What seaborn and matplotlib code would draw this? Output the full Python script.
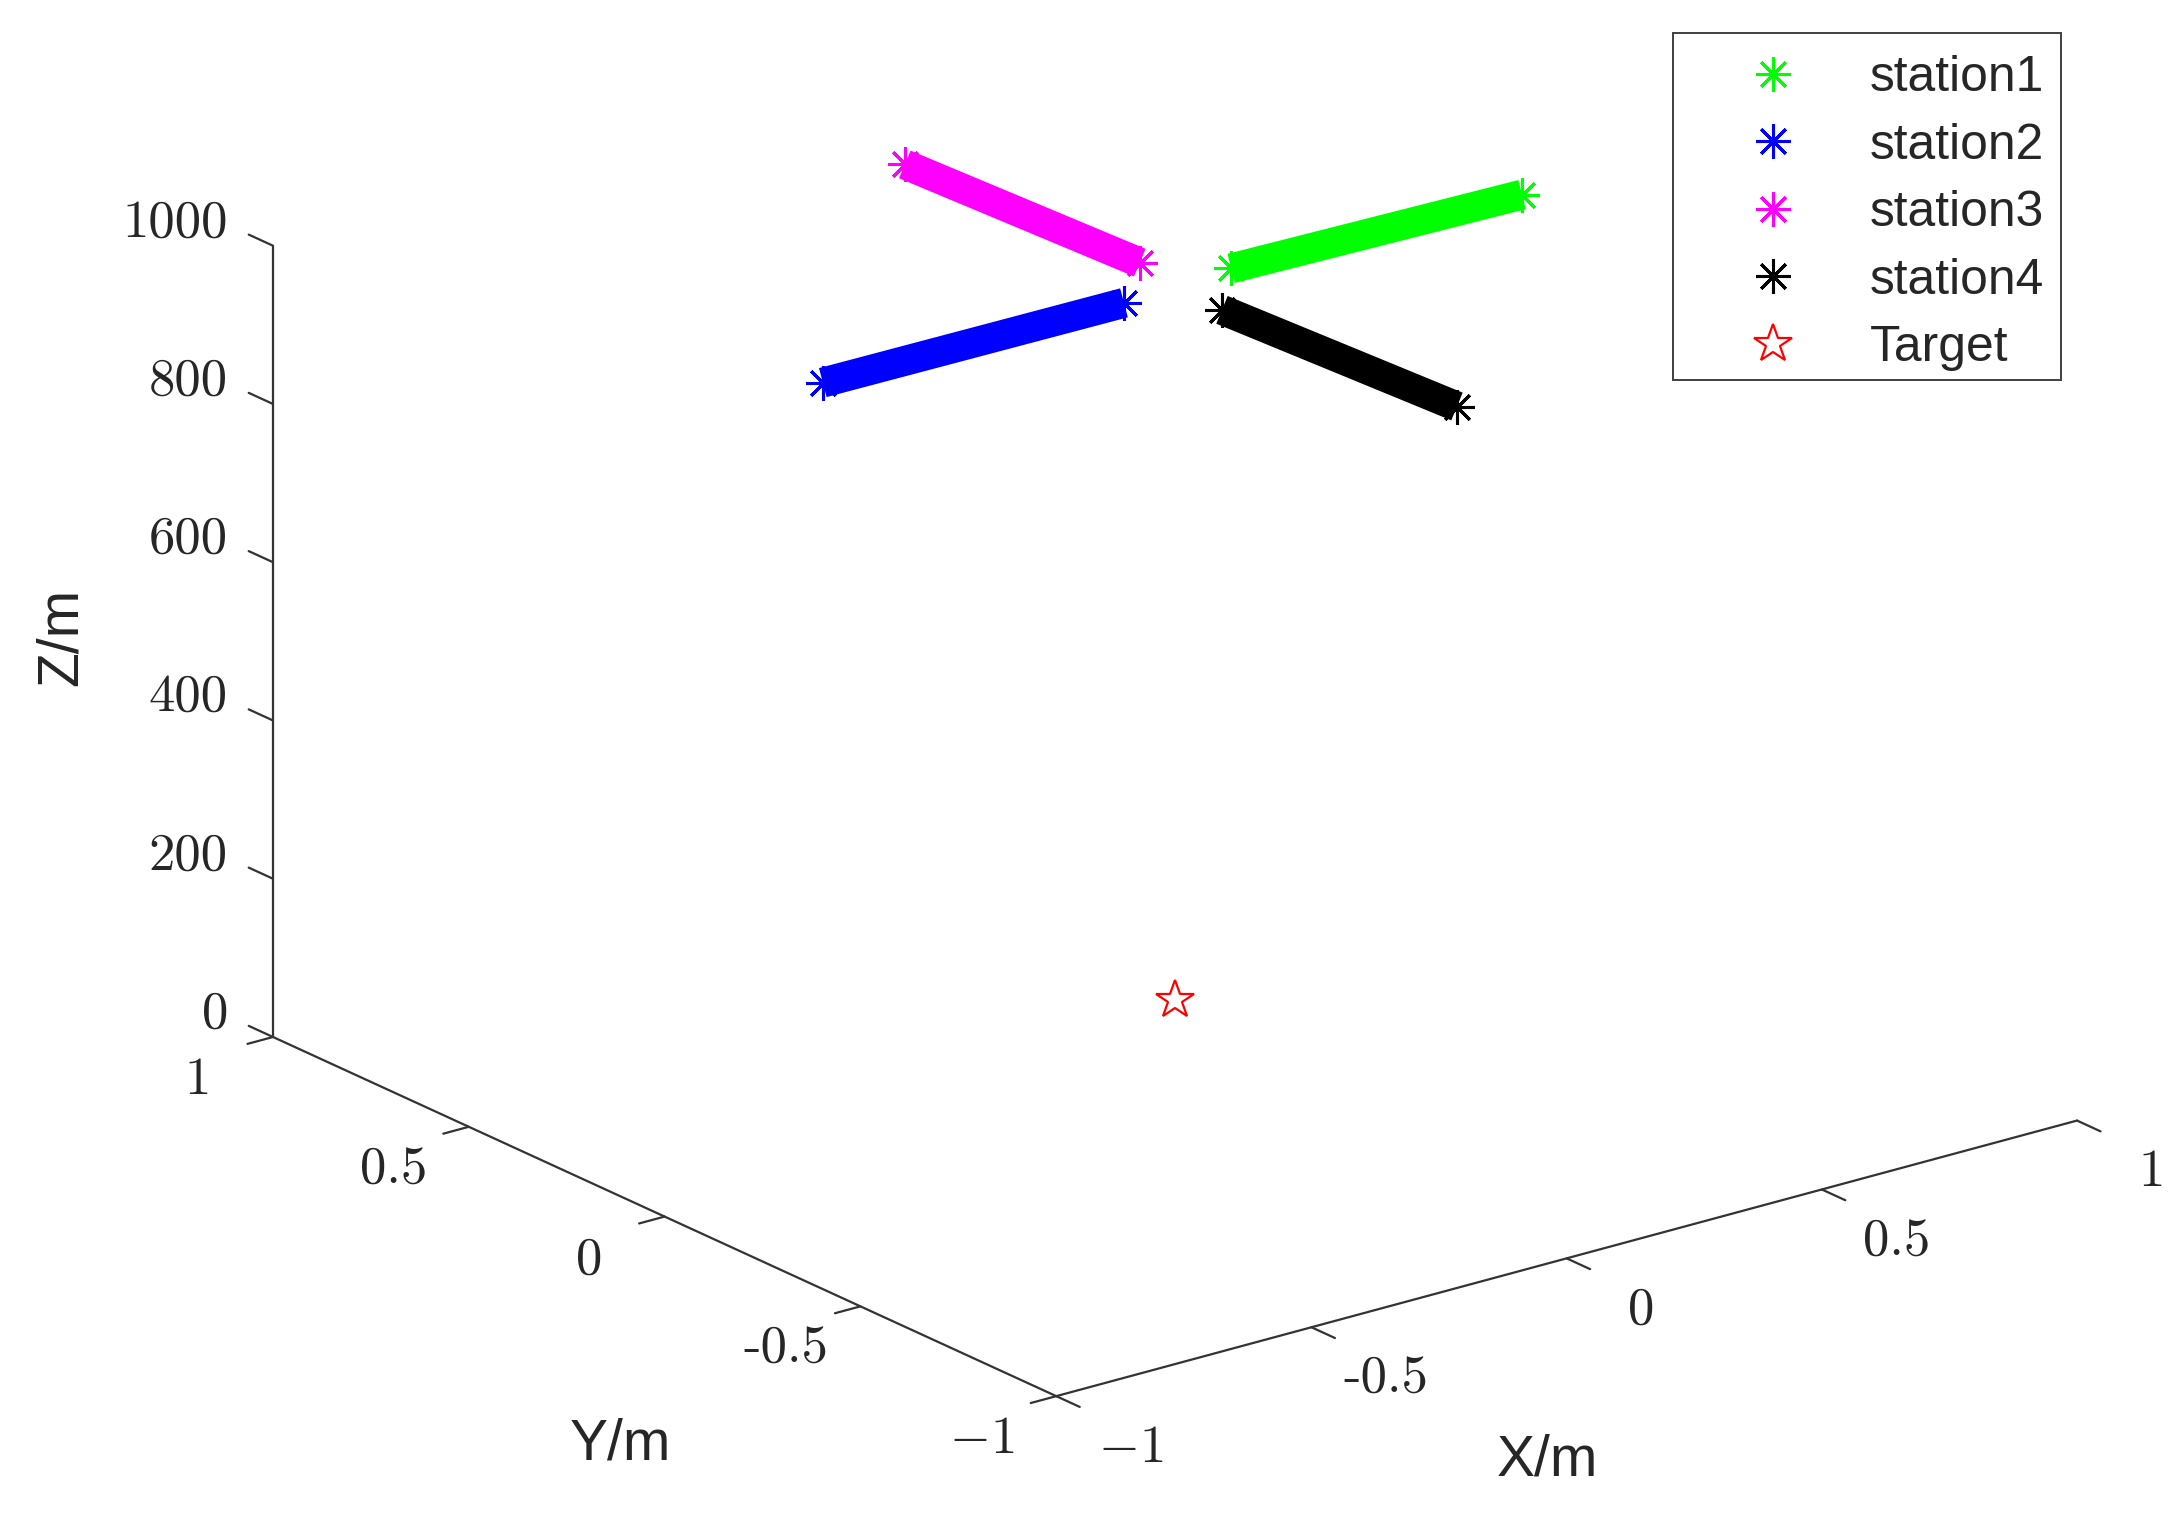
import numpy as np
import seaborn as sns
import matplotlib
matplotlib.use("Agg")
from matplotlib import pyplot as plt
from matplotlib.patches import Rectangle
from mpl_toolkits.mplot3d import proj3d

# ---- data ----------------------------------------------------------------
station_names = ["station1", "station2", "station3", "station4"]
station_colors = ["#00ff00", "#0000ff", "#ff00ff", "#000000"]
# start / end of each station track
station_x = [[0.11, 0.68], [-0.10, -0.69], [0.0, 0.0], [0.0, 0.0]]
station_y = [[0.0, 0.0], [0.0, 0.0], [0.09, 0.69], [-0.12, -0.72]]
station_z = [[1005, 999], [998, 1000], [1011, 999], [999, 1013]]

target_x = [0.0]
target_y = [0.0]
target_z = [100.0]

xy_ticks = [-1, -0.5, 0, 0.5, 1]
xy_ticklabels = ["$-1$", "-0.5", "0", "0.5", "1"]
z_ticks = [0, 200, 400, 600, 800, 1000]
z_ticklabels = ["0", "200", "400", "600", "800", "1000"]

W, H, DPI = 2171, 1517, 200
AX_COLOR = "#333333"

sns.set_style("white")
plt.rcParams["font.family"] = ["Liberation Sans", "DejaVu Sans"]
plt.rcParams["mathtext.fontset"] = "cm"
plt.rcParams["axes.edgecolor"] = AX_COLOR
plt.rcParams["axes.linewidth"] = 0.8

fig = plt.figure(figsize=(W / DPI, H / DPI), dpi=DPI)
ax = fig.add_axes([0, 0, 1, 1], projection="3d", proj_type="ortho")
ax.view_init(elev=20.6, azim=-127.5)
ax.set_box_aspect((1, 1, 0.657))

for i in range(len(station_names)):
    ax.plot(station_x[i], station_y[i], station_z[i], color=station_colors[i],
            lw=10.8, solid_capstyle="butt", label="_nolegend_")
    ax.plot(station_x[i], station_y[i], station_z[i], linestyle="none",
            marker=(8, 2, 0), ms=12.5, mew=1.1, color=station_colors[i],
            label=station_names[i])

ax.plot(target_x, target_y, target_z, linestyle="none", marker="*", ms=14.5,
        mfc="none", mec="#ff0000", mew=0.8, label="Target")

ax.set_xlim(-1, 1)
ax.set_ylim(-1, 1)
ax.set_zlim(0, 1000)
ax.set_xticks(xy_ticks)
ax.set_yticks(xy_ticks)
ax.set_zticks(z_ticks)
ax.set_xticklabels([])
ax.set_yticklabels([])
ax.set_zticklabels([])
ax.grid(False)
for axis in [ax.xaxis, ax.yaxis, ax.zaxis]:
    axis.pane.set_visible(False)
    axis.line.set_color(AX_COLOR)
    axis.line.set_linewidth(0.8)
    axis._axinfo["tick"]["inward_factor"] = 0.0
    axis._axinfo["tick"]["outward_factor"] = 0.0

# outward MATLAB-style tick marks
tick_kw = dict(color=AX_COLOR, lw=0.8)
for t in xy_ticks:
    ax.plot([t, t], [-1, -1.06], [0, 0], **tick_kw)
    ax.plot([-1, -1.05], [t, t], [0, 0], **tick_kw)
for t in z_ticks:
    ax.plot([-1, -1], [1, 1.062], [t, t], **tick_kw)

# place the projected box like the reference
fig.canvas.draw()


def to_px(x, y, z):
    xs, ys, _ = proj3d.proj_transform(x, y, z, ax.get_proj())
    return np.array(ax.transData.transform((xs, ys)))


pA = to_px(-1, 1, 0)
pB = to_px(1, -1, 0)
tA = np.array([273, H - 1037])
tB = np.array([2077, H - 1121])
bb = ax.get_position().transformed(fig.transFigure)
c0 = np.array([(bb.x0 + bb.x1) / 2, (bb.y0 + bb.y1) / 2])
k = np.linalg.norm(tB - tA) / np.linalg.norm(pB - pA)
S = bb.width * k
c1 = tA - k * (pA - c0)
ax.set_position([(c1[0] - S / 2) / W, (c1[1] - S / 2) / H, S / W, S / H])
fig.canvas.draw()

# tick labels (MATLAB-like placement, projected from data positions)
tick_font = dict(fontsize=19, color="#262626", family="cmr10")
for t, s in zip(xy_ticks, xy_ticklabels):
    px, py = to_px(t, -1.19, -23)
    fig.text(px / W, py / H, s, ha="center", va="center", **tick_font)
    px, py = to_px(-1.147, t, -29)
    fig.text(px / W, py / H, s, ha="center", va="center", **tick_font)
for t, s in zip(z_ticks, z_ticklabels):
    px, py = to_px(-1, 1.115, t + 3)
    fig.text(px / W, py / H, s, ha="right", va="center", **tick_font)

# axis titles
lab_font = dict(fontsize=20.5, color="#262626", ha="center", va="center")
fig.text(62 / W, 1 - 637 / H, "Z/m", rotation=90, **lab_font)
fig.text(620 / W, 1 - 1444 / H, "Y/m", **lab_font)
fig.text(1547 / W, 1 - 1461 / H, "X/m", **lab_font)

# legend with a MATLAB-like box
fig.add_artist(Rectangle((1673 / W, 1 - 380 / H), 388 / W, 347 / H,
                         transform=fig.transFigure, facecolor="white",
                         edgecolor="#404040", lw=0.7, zorder=4))
leg = fig.legend(loc="upper left", bbox_to_anchor=(1673 / W, 1 - 38 / H),
                 borderaxespad=0, fontsize=17.9, frameon=False,
                 borderpad=0.35, handlelength=3.34, handletextpad=0.26,
                 labelspacing=0.43)
leg.set_zorder(5)
for t in leg.get_texts():
    t.set_color("#262626")

fig.savefig("out.png", dpi=DPI)
